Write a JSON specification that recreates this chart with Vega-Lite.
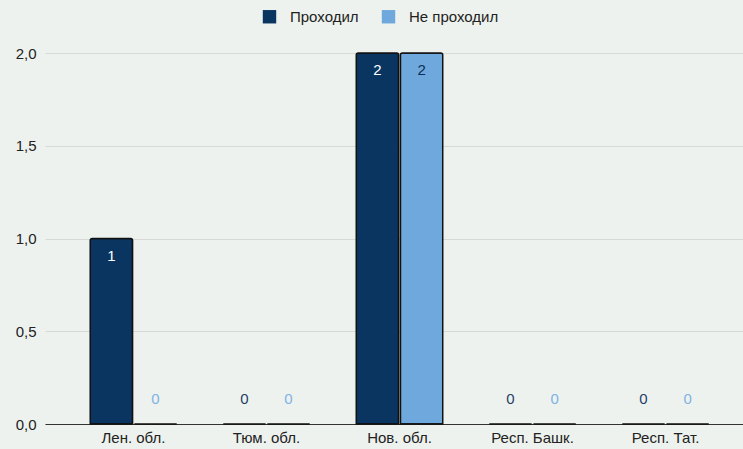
{
  "$schema": "https://vega.github.io/schema/vega-lite/v6.json",
  "autosize": {"type": "none"},
  "width": 709,
  "height": 371,
  "padding": {"left": 45, "top": 53, "right": 0, "bottom": 25},
  "background": "#eef2ee",
  "config": {
    "view": {"stroke": null},
    "font": "Liberation Sans"
  },
  "data": {
    "values": [
      {"region": "Лен. обл.", "s": "Проходил", "v": 1},
      {"region": "Лен. обл.", "s": "Не проходил", "v": 0},
      {"region": "Тюм. обл.", "s": "Проходил", "v": 0},
      {"region": "Тюм. обл.", "s": "Не проходил", "v": 0},
      {"region": "Нов. обл.", "s": "Проходил", "v": 2},
      {"region": "Нов. обл.", "s": "Не проходил", "v": 2},
      {"region": "Респ. Башк.", "s": "Проходил", "v": 0},
      {"region": "Респ. Башк.", "s": "Не проходил", "v": 0},
      {"region": "Респ. Тат.", "s": "Проходил", "v": 0},
      {"region": "Респ. Тат.", "s": "Не проходил", "v": 0}
    ]
  },
  "encoding": {
    "x": {
      "field": "region", "type": "nominal", "sort": null,
      "scale": {"paddingInner": 0.35, "paddingOuter": 0.34},
      "axis": {"title": null, "labelAngle": 0, "ticks": false, "domainColor": "#333333", "domainWidth": 1,
               "labelFontSize": 15, "labelColor": "#222222", "labelPadding": 6}
    },
    "xOffset": {"field": "s", "type": "nominal", "sort": ["Проходил", "Не проходил"], "scale": {"paddingInner": 0.04}},
    "y": {
      "field": "v", "type": "quantitative",
      "scale": {"domain": [0, 2]},
      "axis": {"title": null, "tickCount": 4, "format": ".1f", "labelExpr": "replace(datum.label, '.', ',')",
               "domain": false, "ticks": false, "gridColor": "#d6d9d6", "labelFontSize": 15, "labelColor": "#222222", "labelPadding": 9}
    }
  },
  "layer": [
    {
      "mark": {"type": "bar", "stroke": "#111111", "strokeWidth": 1.5, "cornerRadiusTopLeft": 2, "cornerRadiusTopRight": 2},
      "encoding": {
        "color": {
          "field": "s", "type": "nominal", "sort": ["Проходил", "Не проходил"],
          "scale": {"domain": ["Проходил", "Не проходил"], "range": ["#0a3561", "#6fa8dc"]},
          "legend": {"title": null, "orient": "none", "direction": "horizontal", "legendX": 217, "legendY": -44,
                     "symbolType": "square", "symbolSize": 180, "symbolStrokeWidth": 0, "labelFontSize": 15, "labelFont": "Liberation Sans",
                     "labelColor": "#222222", "columnPadding": 22, "labelOffset": 13}
        }
      }
    },
    {
      "transform": [{"filter": "datum.v > 0"}],
      "mark": {"type": "text", "baseline": "middle", "dy": 17, "fontSize": 15},
      "encoding": {
        "text": {"field": "v", "type": "quantitative"},
        "color": {"condition": {"test": "datum.s == 'Проходил'", "value": "#ffffff"}, "value": "#0b2f55"}
      }
    },
    {
      "transform": [{"filter": "datum.v == 0"}],
      "mark": {"type": "text", "baseline": "middle", "dy": -25, "fontSize": 15},
      "encoding": {
        "text": {"field": "v", "type": "quantitative"},
        "color": {"condition": {"test": "datum.s == 'Проходил'", "value": "#1f3f66"}, "value": "#7fb3e6"}
      }
    }
  ]
}
